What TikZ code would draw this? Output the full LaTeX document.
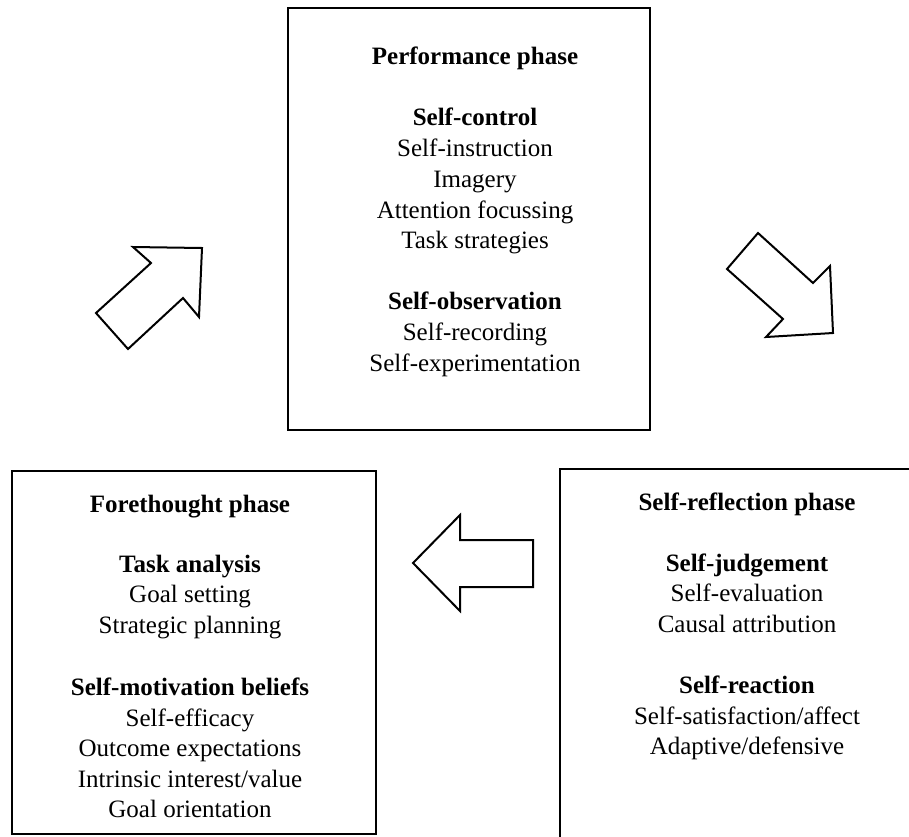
\documentclass[tikz,border=0pt]{standalone}
\usepackage{fontspec}
\setmainfont{Liberation Serif}
\usepackage{tikz}
\tikzset{
  phasebox/.style = {draw, line width = 2.2pt},
  blockarrow/.style = {draw, line width = 2pt, line join = miter, fill = white},
  txt/.style = {anchor = base, inner sep = 0pt, font = \fontsize{25}{30}\selectfont},
  head/.style = {txt, font = \fontsize{25}{30}\selectfont\bfseries}
}

\begin{document}
\begin{tikzpicture}[x = 1pt, y = -1pt]
  \useasboundingbox (0, 0) rectangle (909, 836);
  % the three phases
  \draw [phasebox] (288, 8) rectangle (650, 430);
  \draw [phasebox] (12, 471) rectangle (376, 834);
  \draw [phasebox] (560, 469) rectangle (945, 900);
  % performance
  \node [head] (Perf) at (475, 64) {Performance phase};
  \node [head] (SC) at (475, 125) {Self-control};
  \node [txt] (SC1) at (475, 156) {Self-instruction};
  \node [txt] (SC2) at (475, 187) {Imagery};
  \node [txt] (SC3) at (475, 218) {Attention focussing};
  \node [txt] (SC4) at (475, 248) {Task strategies};
  \node [head] (SO) at (475, 309) {Self-observation};
  \node [txt] (SO1) at (475, 340) {Self-recording};
  \node [txt] (SO2) at (475, 371) {Self-experimentation};
  % forethought
  \node [head] (Fore) at (190, 512) {Forethought phase};
  \node [head] (TA) at (190, 572) {Task analysis};
  \node [txt] (TA1) at (190, 602) {Goal setting};
  \node [txt] (TA2) at (190, 633) {Strategic planning};
  \node [head] (SM) at (190, 695) {Self-motivation beliefs};
  \node [txt] (SM1) at (190, 726) {Self-efficacy};
  \node [txt] (SM2) at (190, 756) {Outcome expectations};
  \node [txt] (SM3) at (190, 787) {Intrinsic interest/value};
  \node [txt] (SM4) at (190, 817) {Goal orientation};
  % self-reflection
  \node [head] (Refl) at (747, 510) {Self-reflection phase};
  \node [head] (SJ) at (747, 571) {Self-judgement};
  \node [txt] (SJ1) at (747, 601) {Self-evaluation};
  \node [txt] (SJ2) at (747, 632) {Causal attribution};
  \node [head] (SR) at (747, 693) {Self-reaction};
  \node [txt] (SR1) at (747, 724) {Self-satisfaction/affect};
  \node [txt] (SR2) at (747, 754) {Adaptive/defensive};
  % cycle arrows
  \draw [blockarrow] (133, 247) -- (202, 248) -- (199, 317) -- (183, 298)
    -- (128, 349) -- (96, 313) -- (151, 263) -- cycle;
  \draw [blockarrow] (758, 233) -- (813, 283) -- (830, 266) -- (833, 333)
    -- (766, 337) -- (783, 319) -- (727, 269) -- cycle;
  \draw [blockarrow] (413, 563) -- (460, 515) -- (460, 540) -- (533, 540)
    -- (533, 587) -- (460, 587) -- (460, 611) -- cycle;
\end{tikzpicture}
\end{document}
